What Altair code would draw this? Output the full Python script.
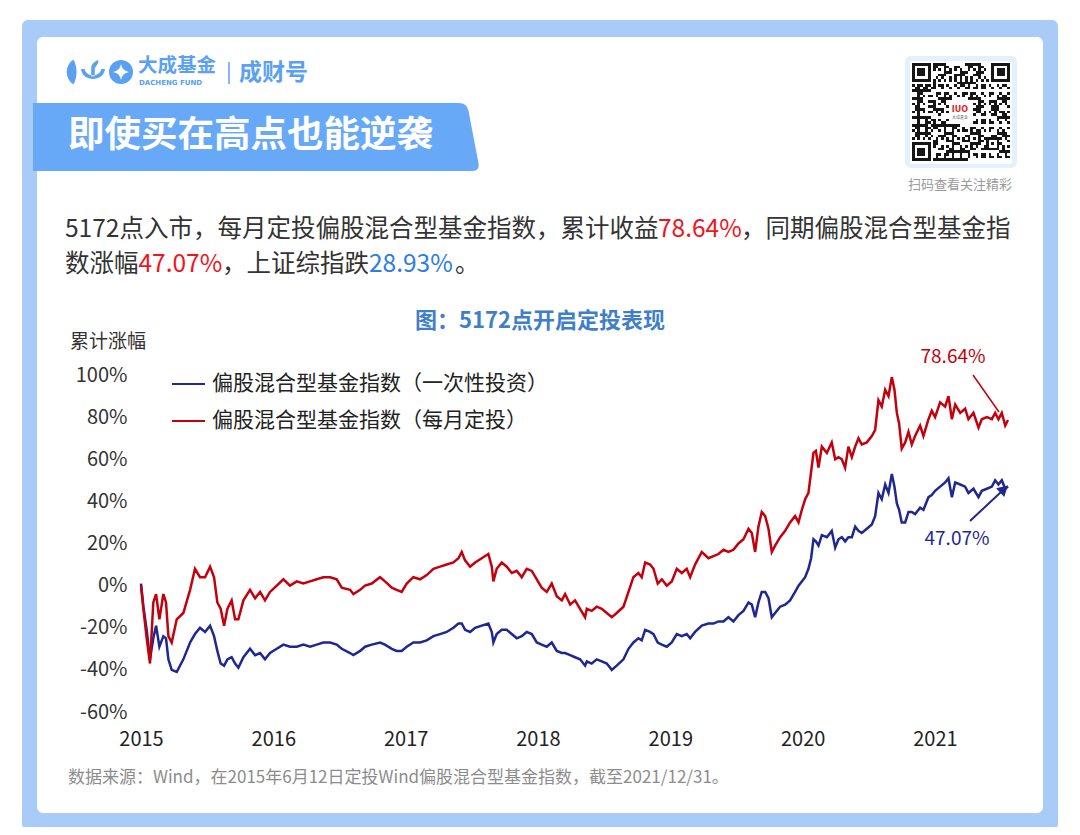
import base64
import altair as alt
import pandas as pd

FONT = "Noto Sans CJK SC"

# ---------------- data ----------------
# time as decimal year (2015-06-12 start .. 2021-12-31 end)
t_years = [
    2015.445, 2015.463, 2015.488, 2015.513, 2015.538, 2015.559, 2015.584, 2015.614, 2015.634, 2015.652,
    2015.677, 2015.715, 2015.765, 2015.816, 2015.853, 2015.891, 2015.929, 2015.967, 2015.997, 2016.022,
    2016.047, 2016.073, 2016.098, 2016.130, 2016.156, 2016.181, 2016.219, 2016.269, 2016.307, 2016.345,
    2016.382, 2016.420, 2016.471, 2016.521, 2016.571, 2016.622, 2016.672, 2016.723, 2016.773, 2016.823,
    2016.874, 2016.924, 2016.962, 2017.025, 2017.050, 2017.101,
    2017.138, 2017.189, 2017.251, 2017.289, 2017.340, 2017.377, 2017.415, 2017.453, 2017.503, 2017.554,
    2017.604, 2017.655, 2017.705, 2017.755, 2017.806, 2017.844, 2017.869, 2017.894, 2017.932, 2017.970,
    2018.020, 2018.070, 2018.096, 2018.108, 2018.133, 2018.171, 2018.209, 2018.247, 2018.285, 2018.322,
    2018.360, 2018.398, 2018.436, 2018.473, 2018.511, 2018.549, 2018.587, 2018.625, 2018.650, 2018.688,
    2018.725, 2018.763, 2018.801,
    2018.814, 2018.851, 2018.889, 2018.927, 2018.965, 2019.003, 2019.040, 2019.091, 2019.129, 2019.166,
    2019.204, 2019.229, 2019.255, 2019.292, 2019.318, 2019.350, 2019.381, 2019.418, 2019.456, 2019.494,
    2019.532, 2019.569, 2019.595, 2019.632, 2019.683, 2019.733, 2019.771, 2019.809, 2019.847, 2019.884,
    2019.922, 2019.960, 2019.998, 2020.036, 2020.061, 2020.086, 2020.111, 2020.136, 2020.162, 2020.187,
    2020.212, 2020.237, 2020.275, 2020.313, 2020.350, 2020.388,
    2020.414, 2020.439, 2020.464, 2020.489, 2020.509, 2020.527, 2020.545, 2020.565, 2020.590, 2020.628,
    2020.665, 2020.691, 2020.716, 2020.741, 2020.766, 2020.791, 2020.817, 2020.842, 2020.867, 2020.892,
    2020.930, 2020.968, 2020.993, 2021.018, 2021.043, 2021.069, 2021.094, 2021.119, 2021.139, 2021.157,
    2021.174, 2021.194, 2021.220, 2021.245, 2021.270, 2021.295, 2021.333, 2021.358, 2021.396, 2021.421,
    2021.446, 2021.484, 2021.522, 2021.547, 2021.573, 2021.598, 2021.636, 2021.673, 2021.698, 2021.736,
    2021.774, 2021.799, 2021.837, 2021.875, 2021.900, 2021.925, 2021.950, 2021.976, 2021.997,
]

# 偏股混合型基金指数（每月定投）, cumulative %
monthly_dca = [
    0, -11, -25, -37, -8, -4, -16, -4, -8, -24,
    -27, -16, -13, -2, 8, 4, 4, 9, 4, -8,
    -11, -19, -11, -7, -16, -16, -7, -2, -6, -3,
    -7, -3, 0, 3, 0, 2, 1, 2, 3, 4,
    4, 3, -1, -2, -4, -2,
    0, 1, 4, 2, -1, -2, -3, 1, 4, 3,
    5, 8, 9, 10, 11, 13, 16, 12, 9, 11,
    13, 15, 9, 2, 8, 11, 9, 6, 7, 4,
    8, 7, 3, -1, -3, 1, -5, -7, -4, -9,
    -7, -11, -15,
    -11, -12, -10, -11, -13, -15, -13, -10, -3, 4,
    6, 4, 11, 10, 8, 1, 3, 0, 2, 8,
    6, 8, 4, 10, 16, 13, 14, 15, 17, 16,
    17, 20, 22, 27, 25, 16, 28, 35, 33, 27,
    16, 19, 23, 26, 30, 33,
    30, 36, 41, 44, 54, 63, 64, 56, 66, 63,
    68, 60, 61, 60, 56, 66, 61, 66, 70, 67,
    68, 71, 74, 88, 85, 93, 90, 99, 93, 82,
    77, 65, 68, 73, 67, 71, 76, 71, 79, 83,
    80, 87, 85, 90, 79, 86, 82, 84, 79, 82,
    75, 79, 80, 79, 82, 79, 82, 76, 78.64,
]

# 偏股混合型基金指数（一次性投资）, cumulative %
lump_sum = [
    1, -10, -21, -35, -25, -19, -29, -24, -25, -35,
    -40, -41, -35, -27, -23, -20, -22, -19, -24, -31,
    -37, -38, -35, -34, -37, -39, -34, -30, -33, -32,
    -35, -32, -30, -28, -29, -29, -28, -29, -28, -27,
    -27, -28, -30, -32, -33, -31,
    -29, -28, -27, -28, -30, -31, -31, -29, -27, -27,
    -26, -24, -23, -22, -20, -18, -18, -21, -22, -20,
    -19, -18, -22, -27, -23, -21, -21, -23, -25, -24,
    -22, -23, -27, -28, -29, -27, -31, -32, -32, -33,
    -34, -35, -38,
    -36, -37, -35, -36, -37, -40, -38, -35, -30, -27,
    -25, -26, -21, -22, -23, -27, -28, -29, -27, -23,
    -24, -23, -25, -22, -19, -18, -18, -17, -17, -15,
    -17, -14, -12, -8, -9, -15, -8, -3, -3, -6,
    -15, -13, -10, -9, -7, -3,
    0, 2, 4, 8, 13, 22, 21, 19, 24, 23,
    26, 18, 22, 23, 21, 23, 23, 28, 26, 25,
    27, 29, 33, 44, 41, 48, 44, 53, 47, 39,
    36, 30, 30, 35, 35, 34, 37, 36, 42, 43,
    45, 47, 49, 51, 42, 49, 48, 47, 44, 46,
    42, 45, 46, 47, 50, 48, 50, 46, 47.07,
]

x_tick_values = [2015.445, 2016.445, 2017.445, 2018.445, 2019.445, 2020.445, 2021.445]
y_tick_values = [-60, -40, -20, 0, 20, 40, 60, 80, 100]

S_LUMP = "偏股混合型基金指数（一次性投资）"
S_DCA = "偏股混合型基金指数（每月定投）"

# ---------------- styles / layout ----------------
NAVY = "#1f2790"
RED = "#c4000c"
OX, OY = 141, 375          # page position of plot origin
W, H = 867, 337
one = pd.DataFrame({"k": [0]})


def gx(X):
    return X - OX


def gy(Y):
    return Y - OY


def text(s, X, Y, size, color, weight="normal", align="left", baseline="middle", font=FONT):
    return alt.Chart(one).mark_text(
        text=s, fontSize=size, color=color, fontWeight=weight,
        align=align, baseline=baseline, font=font,
    ).encode(x=alt.value(gx(X)), y=alt.value(gy(Y)))


def rect(X1, Y1, X2, Y2, color, r=0):
    return alt.Chart(one).mark_rect(color=color, cornerRadius=r, opacity=1).encode(
        x=alt.value(gx(X1)), x2=alt.value(gx(X2)), y=alt.value(gy(Y1)), y2=alt.value(gy(Y2))
    )


def rule(X1, Y1, X2, Y2, color, w):
    return alt.Chart(one).mark_rule(color=color, strokeWidth=w).encode(
        x=alt.value(gx(X1)), x2=alt.value(gx(X2)), y=alt.value(gy(Y1)), y2=alt.value(gy(Y2))
    )


def shape(path, X, Y, k, color, angle=0):
    return alt.Chart(one).mark_point(
        shape=path, size=(2 * k) ** 2, filled=True, color=color, opacity=1,
        strokeWidth=0, angle=angle,
    ).encode(x=alt.value(gx(X)), y=alt.value(gy(Y)))


layers = []
# frame + card
layers.append(rect(22, 20, 1058, 830, "#a9cbf8", 6))
layers.append(rect(37, 37, 1043, 813, "#ffffff", 6))

# banner
banner_path = ("M -0.892,-0.136 L 0.812,-0.136 Q 0.844,-0.136 0.850,-0.105 "
               "L 0.890,0.105 Q 0.896,0.136 0.864,0.136 L -0.892,0.136 Z")
layers.append(shape(banner_path, 256, 137, 250, "#67a9f7"))
layers.append(text("即使买在高点也能逆袭", 68, 136, 36.5, "#ffffff", weight="bold"))

# logo
LOGO = "#5aa1f2"
leaf = "M 0.1,-1 C -0.6,-0.5 -0.6,0.5 0.1,1 C 0.45,0.5 0.45,-0.5 0.1,-1 Z"
layers.append(shape(leaf, 72, 72, 12.5, LOGO))
sprout = ("M -1,-0.25 C -0.9,0.85 0.9,0.85 1,-0.25 L 0.7,-0.25 C 0.55,0.45 -0.55,0.45 -0.7,-0.25 Z "
          "M -0.15,0.35 L -0.15,-0.35 C -0.15,-0.75 0.3,-0.95 0.45,-1 C 0.45,-0.6 0.15,-0.4 0.15,-0.3 L 0.15,0.35 Z")
layers.append(shape(sprout, 93, 72, 12, LOGO))
layers.append(shape("circle", 121, 72, 12, LOGO))
star = "M 0,-1 Q 0.15,-0.15 1,0 Q 0.15,0.15 0,1 Q -0.15,0.15 -1,0 Q -0.15,-0.15 0,-1 Z"
layers.append(shape(star, 121, 72, 8, "#ffffff"))
layers.append(text("大成基金", 138, 66, 19.5, LOGO, weight="bold"))
layers.append(text("DACHENG FUND", 139, 82.5, 7, LOGO, weight="bold", font="DejaVu Sans"))
layers.append(rule(229, 62, 229, 84, LOGO, 1.5))
layers.append(text("成财号", 239, 73, 23, LOGO, weight="bold"))

# QR code block (decorative image)
layers.append(rect(905, 56, 1017, 168, "#e4efff", 6))
layers.append(rect(910, 61, 1012, 164, "#ffffff", 2))
N = 37


def dark(r, c):
    for r0, c0 in [(0, 0), (0, N - 7), (N - 7, 0)]:
        rr, cc = r - r0, c - c0
        if 0 <= rr < 7 and 0 <= cc < 7:
            return rr in (0, 6) or cc in (0, 6) or (2 <= rr <= 4 and 2 <= cc <= 4)
    if (r < 8 and c < 8) or (r < 8 and c >= N - 8) or (r >= N - 8 and c < 8):
        return False
    if r == 6:
        return c % 2 == 0
    if c == 6:
        return r % 2 == 0
    if 28 <= r <= 32 and 28 <= c <= 32:
        return max(abs(r - 30), abs(c - 30)) != 1
    if 14 <= r <= 22 and 14 <= c <= 22:
        return False
    h = (r * 7919 + c * 104729 + r * c * 31) % 101
    return h < 47


svg_parts = [f'<svg xmlns="http://www.w3.org/2000/svg" width="{N*8}" height="{N*8}" '
             f'viewBox="0 0 {N} {N}" shape-rendering="crispEdges">'
             f'<rect width="{N}" height="{N}" fill="#ffffff"/>']
for r in range(N):
    c = 0
    while c < N:
        if dark(r, c):
            c0 = c
            while c < N and dark(r, c):
                c += 1
            svg_parts.append(f'<rect x="{c0}" y="{r}" width="{c - c0}" height="1" fill="#161616"/>')
        else:
            c += 1
svg_parts.append("</svg>")
qr_url = "data:image/svg+xml;base64," + base64.b64encode("".join(svg_parts).encode()).decode()
layers.append(alt.Chart(one).mark_image(width=98, height=98, aspect=False, align="left", baseline="top").encode(
    x=alt.value(gx(912)), y=alt.value(gy(63)), url=alt.value(qr_url)))
layers.append(rect(949, 101, 971, 124, "#ffffff", 2))
layers.append(text("IUO", 960, 110, 8, "#e0262b", weight="bold", align="center", font="DejaVu Sans"))
layers.append(text("大成基金", 960, 118, 4, "#666666", align="center"))
layers.append(text("扫码查看关注精彩", 960, 185, 13, "#9a9a9a", align="center"))

# description
DK = "#333333"
RD = "#f0141e"
BL = "#2b7de9"
FS = 24.5
layers.append(text("5172点入市，每月定投偏股混合型基金指数，累计收益", 65, 230, FS, DK))
layers.append(text("78.64%", 658, 230, FS, RD))
layers.append(text("，同期偏股混合型基金指", 741, 230, FS, DK))
layers.append(text("数涨幅", 65, 265, FS, DK))
layers.append(text("47.07%", 138.5, 265, FS, RD))
layers.append(text("，上证综指跌", 222, 265, FS, DK))
layers.append(text("28.93%", 369, 265, FS, BL))
layers.append(text("。", 455, 265, FS, DK))

# chart title, axis title, legend
layers.append(text("图：5172点开启定投表现", 540, 321, 22, "#3f7fca", weight="bold", align="center"))
layers.append(text("累计涨幅", 70, 342, 19, "#333333"))
layers.append(rule(172, 384, 205, 384, NAVY, 2))
layers.append(text(S_LUMP, 212, 384, 21, "#222222"))
layers.append(rule(172, 421, 205, 421, RED, 2))
layers.append(text(S_DCA, 212, 421, 21, "#222222"))

# lines
df_lump = pd.DataFrame({"t": t_years, "v": lump_sum})
df_dca = pd.DataFrame({"t": t_years, "v": monthly_dca})
xenc = alt.X("t:Q", scale=alt.Scale(domain=[2015.445, 2021.997], nice=False, zero=False),
             axis=alt.Axis(values=x_tick_values, labelExpr="'' + floor(datum.value)",
                           grid=False, domain=False, ticks=False, labelPadding=17,
                           labelFontSize=20, labelColor="#222222", labelFont=FONT,
                           labelFlush=False, labelOverlap=False, title=None, zindex=2))
yenc = alt.Y("v:Q", scale=alt.Scale(domain=[-60, 100], nice=False, zero=False),
             axis=alt.Axis(values=y_tick_values, labelExpr="datum.value + '%'",
                           grid=False, domain=False, ticks=False, labelPadding=14,
                           labelFontSize=20, labelColor="#333333", labelFont=FONT,
                           labelOverlap=False, title=None, zindex=2))
layers.append(alt.Chart(df_lump).mark_line(color=NAVY, strokeWidth=2.5).encode(x=xenc, y=yenc))
layers.append(alt.Chart(df_dca).mark_line(color=RED, strokeWidth=2.5).encode(x=xenc, y=yenc))

# annotations
layers.append(text("78.64%", 953, 357, 19, RED, align="center"))
layers.append(rule(973, 375, 999, 412, RED, 1.5))
layers.append(text("47.07%", 957, 539, 19, NAVY, align="center"))
layers.append(rule(970, 521, 1001, 492, NAVY, 2))
layers.append(shape("triangle-up", 1004, 489, 6, NAVY, angle=47))

# footer
layers.append(text("数据来源：Wind，在2015年6月12日定投Wind偏股混合型基金指数，截至2021/12/31。",
                   68, 778, 17, "#8c8c8c"))

chart = alt.layer(*layers).properties(
    width=W, height=H,
    autosize=alt.AutoSizeParams(type="none"),
    padding={"left": OX - 8, "top": OY - 8, "right": 1064 - (OX - 8) - W, "bottom": 819 - (OY - 8) - H},
    background="white",
).configure_view(stroke=None)

chart.save("out.html", embed_options={"renderer": "svg", "actions": False})
